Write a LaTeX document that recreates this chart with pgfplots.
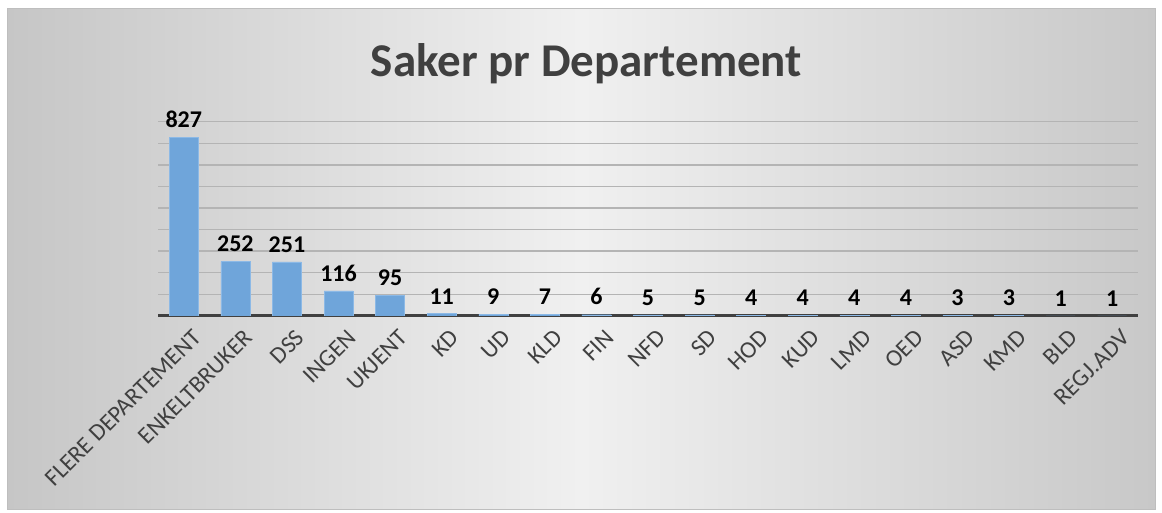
\documentclass[border=0pt]{standalone}
\usepackage{pgfplots}
\pgfplotsset{compat=1.18}
\usepackage{fontspec}
\setmainfont{Carlito}
\definecolor{txt}{RGB}{64,64,64}
\definecolor{barblue}{RGB}{111,165,218}
\definecolor{bargrid}{RGB}{180,180,180}
\begin{document}
\begin{tikzpicture}
\path[use as bounding box] (0pt,0pt) rectangle (1162pt,513pt);
\shade[left color={rgb,255:red,198;green,198;blue,198}, right color={rgb,255:red,200;green,200;blue,200}, middle color={rgb,255:red,240;green,240;blue,240}] (7pt,3pt) rectangle (1155pt,504pt);
\draw[color={rgb,255:red,190;green,190;blue,190}, line width=1pt] (7pt,3pt) rectangle (1155pt,504pt);
\node[anchor=base, font=\bfseries\fontsize{47}{50}\selectfont, text=txt] at (586.5pt,436pt) {Saker pr Departement};
\begin{axis}[
  at={(158pt,197pt)}, anchor=south west,
  scale only axis, width=980pt, height=194.4pt,
  xmin=-0.5, xmax=18.5, ymin=0, ymax=900,
  ybar, bar width=29pt,
  axis x line*=bottom, axis y line*=left,
  y axis line style={draw=none},
  x axis line style={line width=3pt, color=txt},
  ytick={0,100,...,900}, yticklabels={}, ytick style={draw=none},
  ymajorgrids, grid style={color=bargrid, line width=1.4pt},
  xtick=data, xtick style={draw=none},
  xticklabels={FLERE DEPARTEMENT,ENKELTBRUKER,DSS,INGEN,UKJENT,KD,UD,KLD,FIN,NFD,SD,HOD,KUD,LMD,OED,ASD,KMD,BLD,REGJ.ADV},
  xticklabel style={rotate=45, anchor=north east, font=\fontsize{24}{26}\selectfont, text=txt, inner sep=2pt, yshift=-9pt, xshift=2pt},
  /pgf/number format/assume math mode=true,
  nodes near coords,
  every node near coord/.append style={font=\bfseries\fontsize{24}{26}\selectfont, text=black, yshift=6pt},
]
\addplot[fill=barblue, draw={rgb,255:red,140;green,185;blue,230}] coordinates {
(0,827) (1,252) (2,251) (3,116) (4,95) (5,11) (6,9) (7,7) (8,6) (9,5) (10,5) (11,4) (12,4) (13,4) (14,4) (15,3) (16,3) (17,1) (18,1)};
\end{axis}
\end{tikzpicture}
\end{document}
